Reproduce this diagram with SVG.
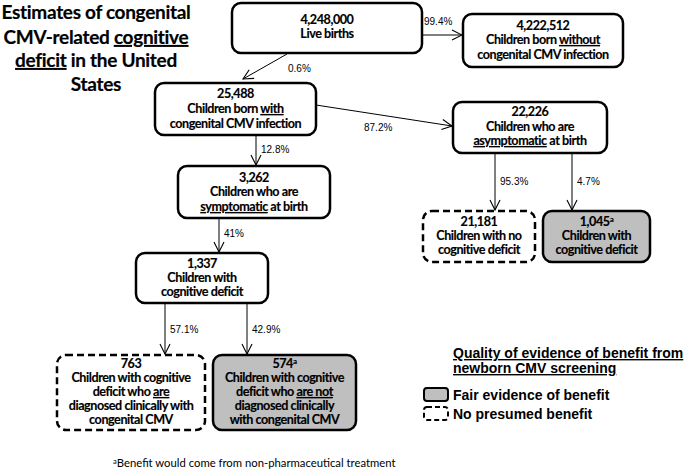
<svg xmlns="http://www.w3.org/2000/svg" width="686" height="476" viewBox="0 0 686 476">
<style>
.box{fill:#fff;stroke:#000;stroke-width:2.5}
.fair{fill:#bfbfbf;stroke:#000;stroke-width:2.5}
.dash{fill:#fff;stroke:#000;stroke-width:2.5;stroke-dasharray:7 4}
.t{font-family:Lato,"Liberation Sans",sans-serif;font-weight:bold;font-size:12.6px;text-anchor:middle;fill:#000;letter-spacing:-0.45px;stroke:#000;stroke-width:0.15px}
.title{font-family:Lato,"Liberation Sans",sans-serif;font-weight:bold;font-size:19px;text-anchor:middle;fill:#000;letter-spacing:-0.3px;stroke:#000;stroke-width:0.2px}
.p{font-family:"Liberation Sans",Arial,sans-serif;font-size:10px;fill:#000}
.lg{font-family:"Liberation Sans",Arial,sans-serif;font-weight:bold;font-size:14px;fill:#000}
.fn{font-family:Lato,"Liberation Sans",sans-serif;font-size:11.3px;fill:#000}
.u{text-decoration:underline}
.ln{stroke:#000;stroke-width:1;fill:none}
</style>
<defs>
<marker id="ah" viewBox="0 0 12 12" refX="11" refY="6" markerWidth="12" markerHeight="12" markerUnits="userSpaceOnUse" orient="auto">
<path d="M1,1 L11,6 L1,11" fill="none" stroke="#000" stroke-width="1.1"/>
</marker>
</defs>
<rect width="686" height="476" fill="#fff"/>

<g id="title">
<text class="title" x="96" y="19">Estimates of congenital</text>
<text class="title" x="96" y="44">CMV-related <tspan class="u">cognitive</tspan></text>
<text class="title" x="96" y="67"><tspan class="u">deficit</tspan> in the United</text>
<text class="title" x="96" y="91">States</text>
</g>

<g id="connectors">
<line class="ln" x1="422" y1="35" x2="462" y2="35" marker-end="url(#ah)"/>
<text class="p" x="424" y="25">99.4%</text>
<line class="ln" x1="287" y1="54" x2="243" y2="79" marker-end="url(#ah)"/>
<text class="p" x="288" y="72">0.6%</text>
<line class="ln" x1="316" y1="105" x2="452" y2="126" marker-end="url(#ah)"/>
<text class="p" x="364" y="131">87.2%</text>
<line class="ln" x1="256" y1="135" x2="256" y2="165" marker-end="url(#ah)"/>
<text class="p" x="261" y="153">12.8%</text>
<line class="ln" x1="495" y1="153" x2="495" y2="210" marker-end="url(#ah)"/>
<text class="p" x="500" y="185">95.3%</text>
<line class="ln" x1="572" y1="153" x2="572" y2="210" marker-end="url(#ah)"/>
<text class="p" x="577" y="185">4.7%</text>
<line class="ln" x1="219" y1="218" x2="219" y2="252" marker-end="url(#ah)"/>
<text class="p" x="224" y="237">41%</text>
<line class="ln" x1="165" y1="303" x2="165" y2="354" marker-end="url(#ah)"/>
<text class="p" x="170" y="333">57.1%</text>
<line class="ln" x1="247" y1="303" x2="247" y2="354" marker-end="url(#ah)"/>
<text class="p" x="252" y="333">42.9%</text>
</g>

<g id="live-births">
<rect class="box" x="232" y="3" width="190" height="50" rx="9"/>
<text class="t" x="327" y="24">4,248,000</text>
<text class="t" x="327" y="38">Live births</text>
</g>

<g id="without">
<rect class="box" x="463" y="14" width="160" height="53" rx="9"/>
<text class="t" x="543" y="30">4,222,512</text>
<text class="t" x="543" y="44">Children born <tspan class="u">without</tspan></text>
<text class="t" x="543" y="59">congenital CMV infection</text>
</g>

<g id="with">
<rect class="box" x="155" y="83" width="161" height="52" rx="9"/>
<text class="t" x="235.5" y="98">25,488</text>
<text class="t" x="235.5" y="113">Children born <tspan class="u">with</tspan></text>
<text class="t" x="235.5" y="128">congenital CMV infection</text>
</g>

<g id="asymptomatic">
<rect class="box" x="453" y="102" width="154" height="51" rx="9"/>
<text class="t" x="530" y="116">22,226</text>
<text class="t" x="530" y="131">Children who are</text>
<text class="t" x="530" y="145"><tspan class="u">asymptomatic</tspan> at birth</text>
</g>

<g id="symptomatic">
<rect class="box" x="178" y="166" width="152" height="52" rx="9"/>
<text class="t" x="254" y="182">3,262</text>
<text class="t" x="254" y="196">Children who are</text>
<text class="t" x="254" y="211"><tspan class="u">symptomatic</tspan> at birth</text>
</g>

<g id="no-deficit">
<rect class="dash" x="423" y="211" width="112" height="51" rx="9"/>
<text class="t" x="479" y="226">21,181</text>
<text class="t" x="479" y="240">Children with no</text>
<text class="t" x="479" y="254">cognitive deficit</text>
</g>

<g id="asym-deficit">
<rect class="fair" x="543" y="211" width="107" height="51" rx="9"/>
<text class="t" x="596.5" y="226">1,045<tspan font-size="8" dy="-4">a</tspan></text>
<text class="t" x="596.5" y="240">Children with</text>
<text class="t" x="596.5" y="254">cognitive deficit</text>
</g>

<g id="sym-deficit">
<rect class="box" x="136" y="253" width="132" height="50" rx="9"/>
<text class="t" x="202" y="268">1,337</text>
<text class="t" x="202" y="282">Children with</text>
<text class="t" x="202" y="296">cognitive deficit</text>
</g>

<g id="diagnosed">
<rect class="dash" x="57" y="355" width="148" height="75" rx="9"/>
<text class="t" x="131" y="368">763</text>
<text class="t" x="131" y="382">Children with cognitive</text>
<text class="t" x="131" y="396">deficit who <tspan class="u">are</tspan></text>
<text class="t" x="131" y="410">diagnosed clinically with</text>
<text class="t" x="131" y="424">congenital CMV</text>
</g>

<g id="not-diagnosed">
<rect class="fair" x="213" y="355" width="143" height="75" rx="9"/>
<text class="t" x="284.5" y="368">574<tspan font-size="8" dy="-4">a</tspan></text>
<text class="t" x="284.5" y="382">Children with cognitive</text>
<text class="t" x="284.5" y="396">deficit who <tspan class="u">are not</tspan></text>
<text class="t" x="284.5" y="410">diagnosed clinically</text>
<text class="t" x="284.5" y="424">with congenital CMV</text>
</g>

<g id="legend">
<text class="lg" x="453" y="358"><tspan class="u">Quality of evidence of benefit from</tspan></text>
<text class="lg" x="453" y="373"><tspan class="u">newborn CMV screening</tspan></text>
<rect x="424" y="388" width="24" height="13" rx="3" fill="#bfbfbf" stroke="#000" stroke-width="2"/>
<text class="lg" x="453" y="400">Fair evidence of benefit</text>
<rect x="424" y="407" width="24" height="13" rx="3" fill="#fff" stroke="#000" stroke-width="2" stroke-dasharray="5 3"/>
<text class="lg" x="453" y="419">No presumed benefit</text>
</g>

<g id="footnote">
<text class="fn" x="113" y="467"><tspan font-size="7.5" dy="-3">a</tspan><tspan dy="3">Benefit would come from non-pharmaceutical treatment</tspan></text>
</g>
</svg>
